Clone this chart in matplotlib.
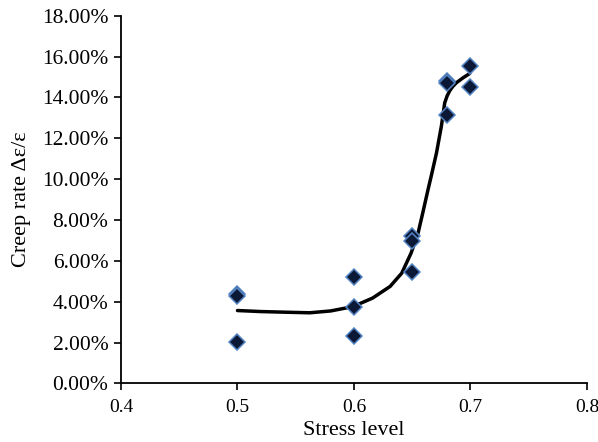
import matplotlib
matplotlib.use("Agg")
import matplotlib.pyplot as plt
from matplotlib.ticker import FuncFormatter, MultipleLocator

# Measured creep rate (%) at each stress level
stress = [0.5, 0.5, 0.5,
          0.6, 0.6, 0.6,
          0.65, 0.65, 0.65,
          0.68, 0.68, 0.68,
          0.7, 0.7]
creep = [4.40, 4.30, 2.05,
         5.20, 3.75, 2.30,
         7.20, 6.95, 5.45,
         14.80, 14.70, 13.15,
         15.55, 14.50]

# Trend curve through the measurements
fit_x = [0.500, 0.520, 0.540, 0.562, 0.580, 0.599, 0.616, 0.631, 0.641,
         0.649, 0.655, 0.659, 0.6636, 0.6665, 0.6708, 0.6750, 0.6779,
         0.6800, 0.6822, 0.6850, 0.6879, 0.6936, 0.6993]
fit_y = [3.57, 3.52, 3.49, 3.46, 3.55, 3.76, 4.18, 4.75, 5.40,
         6.38, 7.36, 8.34, 9.50, 10.20, 11.28, 12.59, 13.74,
         14.08, 14.33, 14.55, 14.72, 14.96, 15.17]

plt.rcParams["font.family"] = ["Liberation Serif", "DejaVu Serif"]

fig = plt.figure(figsize=(5.98, 4.42), dpi=100)
ax = fig.add_axes([0.2023, 0.1324, 0.7793, 0.8321])

ax.plot(fit_x, fit_y, color="black", lw=2.5, solid_capstyle="round",
        solid_joinstyle="round", zorder=2)
ax.plot(stress, creep, linestyle="none", marker="D", markersize=7.8,
        markerfacecolor="#0b1836", markeredgecolor="#5584c4",
        markeredgewidth=1.1, zorder=3)

ax.set_xlim(0.4, 0.8)
ax.set_ylim(0, 18)
ax.xaxis.set_major_locator(MultipleLocator(0.1))
ax.yaxis.set_major_locator(MultipleLocator(2))
ax.xaxis.set_major_formatter(FuncFormatter(lambda v, p: f"{v:.1f}"))
ax.yaxis.set_major_formatter(FuncFormatter(lambda v, p: f"{v:.2f}%"))

for side in ("top", "right"):
    ax.spines[side].set_visible(False)
for side in ("left", "bottom"):
    ax.spines[side].set_linewidth(1.3)

ax.tick_params(axis="both", direction="out", length=5, width=1.2,
               labelsize=15.5, colors="black")
ax.tick_params(axis="x", labelsize=14, pad=6)
ax.tick_params(axis="y", pad=4)

ax.set_xlabel("Stress level", fontsize=16, labelpad=4)
ax.set_ylabel("Creep rate Δε/ε", fontsize=16, labelpad=8)

fig.savefig("out.png", dpi=100)
